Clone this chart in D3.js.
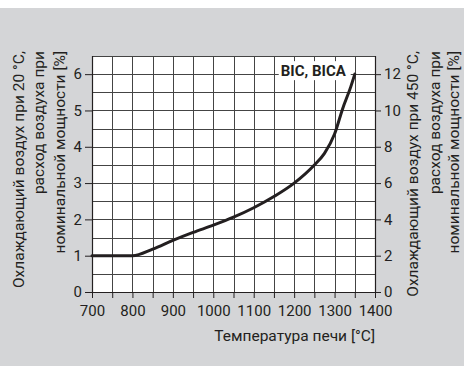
<!DOCTYPE html>
<html>
<head>
<meta charset="utf-8">
<script src="https://cdn.jsdelivr.net/npm/d3@7"></script>
<style>
  html, body { margin: 0; padding: 0; background: #ffffff; }
  svg { display: block; }
  text { font-family: Roboto, "Noto Sans", sans-serif; fill: #231f20; }
</style>
</head>
<body>
<svg id="chart" width="464" height="366"></svg>
<script>
// Furnace temperature, °C
const temperature = [700, 800, 850, 900, 950, 1000, 1050, 1100, 1150, 1200, 1250, 1275, 1300, 1320, 1340, 1350];
// Cooling air at 20 °C, % of air flow at rated power
const coolingAir = [1, 1, 1.18, 1.42, 1.64, 1.84, 2.06, 2.32, 2.63, 3.0, 3.5, 3.82, 4.35, 5.05, 5.65, 6.0];

const xTicks = [700, 800, 900, 1000, 1100, 1200, 1300, 1400];
const yTicks = [0, 1, 2, 3, 4, 5, 6];
const y2Ticks = [0, 2, 4, 6, 8, 10, 12];

const seriesLabel = "BIC, BICA";
const xTitle = "Температура печи [°C]";
const yTitle = ["Охлаждающий воздух при 20 °C,", "расход воздуха при", "номинальной мощности [%]"];
const y2Title = ["Охлаждающий воздух при 450 °C,", "расход воздуха при", "номинальной мощности [%]"];

const svg = d3.select("#chart");
const W = 464, H = 366;
const plot = { left: 92, right: 375, top: 56, bottom: 292 };

// panel background
svg.append("rect")
  .attr("x", 0).attr("y", 8).attr("width", W).attr("height", H - 8)
  .attr("fill", "#d4d5d7");

const x = d3.scaleLinear().domain([700, 1400]).range([plot.left, plot.right]);
const y = d3.scaleLinear().domain([0, 6.5]).range([plot.bottom, plot.top]);
const y2 = d3.scaleLinear().domain([0, 13]).range([plot.bottom, plot.top]);

// plot area
svg.append("rect")
  .attr("x", plot.left).attr("y", plot.top)
  .attr("width", plot.right - plot.left).attr("height", plot.bottom - plot.top)
  .attr("fill", "#ffffff");

// grid: every 50 °C and every 0.5 %
const gridX = d3.range(750, 1400, 50);
const gridY = d3.range(0.5, 6.5, 0.5);
const grid = svg.append("g").attr("stroke", "#444444").attr("stroke-width", 1).attr("shape-rendering", "crispEdges");
grid.selectAll("line.gx").data(gridX).join("line").attr("class", "gx")
  .attr("x1", d => Math.round(x(d)) + 0.5).attr("x2", d => Math.round(x(d)) + 0.5)
  .attr("y1", plot.top).attr("y2", plot.bottom);
grid.selectAll("line.gy").data(gridY).join("line").attr("class", "gy")
  .attr("y1", d => Math.round(y(d)) + 0.5).attr("y2", d => Math.round(y(d)) + 0.5)
  .attr("x1", plot.left).attr("x2", plot.right);
// top border
grid.append("line")
  .attr("x1", plot.left).attr("x2", plot.right)
  .attr("y1", plot.top + 0.5).attr("y2", plot.top + 0.5);

// axes
const tickFont = 15;
const titleFont = 15.5;
const axBottom = svg.append("g").attr("transform", `translate(0,${plot.bottom})`)
  .call(d3.axisBottom(x).tickValues(d3.range(700, 1401, 50)).tickSize(6).tickPadding(7)
    .tickFormat(d => xTicks.includes(d) ? d3.format("d")(d) : ""));
const axLeft = svg.append("g").attr("transform", `translate(${plot.left},0)`)
  .call(d3.axisLeft(y).tickValues(yTicks).tickSize(7).tickPadding(3).tickFormat(d3.format("d")));
const axRight = svg.append("g").attr("transform", `translate(${plot.right},0)`)
  .call(d3.axisRight(y2).tickValues(y2Ticks).tickSize(6).tickPadding(3).tickFormat(d3.format("d")));

[axBottom, axLeft, axRight].forEach(g => {
  g.attr("font-family", null).attr("font-size", null);
  g.select(".domain").attr("stroke", "#231f20").attr("stroke-width", 1.2);
  g.selectAll(".tick line").attr("stroke", "#231f20").attr("stroke-width", 1);
  g.selectAll(".tick text").attr("font-size", tickFont).attr("fill", "#231f20");
});
axLeft.select(".domain").attr("d", `M0.5,${plot.bottom}V${plot.top}`);
axRight.select(".domain").attr("d", `M0.5,${plot.bottom}V${plot.top}`);
axBottom.select(".domain").attr("d", `M${plot.left},0.5H${plot.right}`);

// curve
const line = d3.line()
  .x((d, i) => x(temperature[i]))
  .y(d => y(d))
  .curve(d3.curveMonotoneX);
svg.append("path")
  .datum(coolingAir)
  .attr("d", line)
  .attr("fill", "none")
  .attr("stroke", "#231f20")
  .attr("stroke-width", 3)
  .attr("stroke-linecap", "round");

// series label with white backing
const lastT = temperature[temperature.length - 1];
const lastV = coolingAir[coolingAir.length - 1];
const lbl = svg.append("g");
const lblText = lbl.append("text")
  .attr("x", x(lastT) - 9).attr("y", y(lastV) + 2)
  .attr("text-anchor", "end")
  .attr("font-size", 15).attr("font-weight", "bold")
  .text(seriesLabel);
const bb = lblText.node().getBBox();
lbl.insert("rect", "text")
  .attr("x", bb.x - 2).attr("y", bb.y - 1)
  .attr("width", bb.width + 6).attr("height", bb.height + 1)
  .attr("fill", "#ffffff");

// x title
svg.append("text")
  .attr("x", plot.right).attr("y", 341)
  .attr("text-anchor", "end").attr("font-size", titleFont)
  .text(xTitle);

// left title, three lines reading upward
const yTitleX = [23.5, 44, 64.5];
yTitle.forEach((t, i) => {
  svg.append("text")
    .attr("transform", `translate(${yTitleX[i]},51) rotate(-90)`)
    .attr("text-anchor", "end").attr("font-size", titleFont)
    .text(t);
});

// right title
const y2TitleX = [418, 439.5, 459];
y2Title.forEach((t, i) => {
  svg.append("text")
    .attr("transform", `translate(${y2TitleX[i]},51) rotate(-90)`)
    .attr("text-anchor", "end").attr("font-size", titleFont)
    .text(t);
});
</script>
</body>
</html>
